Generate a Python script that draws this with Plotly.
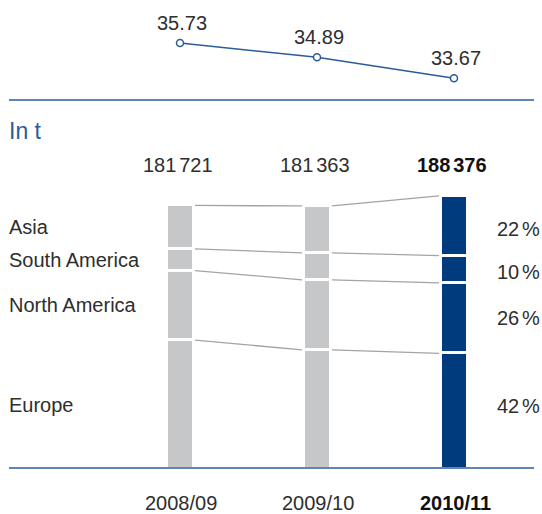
import plotly.graph_objects as go

# ---------------- data ----------------
years = ["2008/09", "2009/10", "2010/11"]
line_values = [35.73, 34.89, 33.67]
totals = [181721, 181363, 188376]
regions = ["Europe", "North America", "South America", "Asia"]  # bottom -> top
region_values = {
    "Europe":        [88863, 82157, 79776],
    "North America": [47974, 48243, 48500],
    "South America": [14900, 18680, 18900],
    "Asia":          [29984, 32283, 41200],
}
pct_values = {"Asia": 22, "South America": 10, "North America": 26, "Europe": 42}

# ---------------- style / layout ----------------
W, H = 542, 514
FONT = "Liberation Sans"
TXT = "#2e2e2e"
BLUE = "#2a5c9a"
NAVY = "#003c7d"
GREY = "#c6c7c9"
LINK = "#a3a3a3"
THIN = "<span style='font-size:10px'> </span>"
FS = 20

def py(px):
    return 1 - px / H

def thin_thousands(n):
    s = f"{n:,}"
    return s.replace(",", THIN)

x0_px, dx_px = 180, 137
xs = [0, 1, 2]
x_range = [-x0_px / dx_px, (W - x0_px) / dx_px]

# bar axis: px 469 -> 0
scale = 273.2 / 188376
y_range = [-(H - 469) / scale, 469 / scale]
# line axis
lscale = 17.1
y2_range = [35.73 - (H - 43) / lscale, 35.73 + 43 / lscale]

fig = go.Figure()
bar_colors = [GREY, GREY, NAVY]
for r in regions:
    fig.add_trace(go.Bar(
        x=xs, y=region_values[r], width=27 / dx_px,
        marker=dict(color=bar_colors, line=dict(color="white", width=3)),
        showlegend=False, hoverinfo="skip",
    ))

# connectors between segment boundaries
bounds = []
for i in range(3):
    cum = 0
    b = []
    for r in regions:
        cum += region_values[r][i]
        b.append(cum)
    bounds.append(b)
off = 15 / dx_px
for i in range(2):
    for k in range(4):
        fig.add_shape(type="line", xref="x", yref="y",
                      x0=i + off, x1=i + 1 - off,
                      y0=bounds[i][k], y1=bounds[i + 1][k],
                      line=dict(color=LINK, width=1.3), layer="above")

# top line chart
fig.add_trace(go.Scatter(
    x=xs, y=line_values, yaxis="y2", mode="lines+markers",
    line=dict(color=BLUE, width=1.5),
    marker=dict(symbol="circle", size=7, color="white",
                line=dict(color=BLUE, width=1.5)),
    showlegend=False, hoverinfo="skip",
))
for i, v in enumerate(line_values):
    fig.add_annotation(x=xs[i], y=v, xref="x", yref="y2", text=f"{v:.2f}",
                       showarrow=False, yshift=20, xshift=2,
                       font=dict(family=FONT, size=FS, color=TXT))

# divider lines
for ypx in (100, 468):
    fig.add_shape(type="line", xref="paper", yref="paper",
                  x0=9 / W, x1=534 / W, y0=py(ypx), y1=py(ypx),
                  line=dict(color=BLUE, width=1.5), layer="above")

# unit label
fig.add_annotation(x=7 / W, y=py(131), xref="paper", yref="paper", text="In t",
                   xanchor="left", yanchor="middle", showarrow=False,
                   font=dict(family=FONT, size=23, color=BLUE))

# totals
for i, t in enumerate(totals):
    txt = thin_thousands(t)
    if i == 2:
        txt = f"<b>{txt}</b>"
    fig.add_annotation(x=xs[i], y=py(165), xref="x", yref="paper", text=txt,
                       showarrow=False, xshift=-2, yanchor="middle",
                       font=dict(family=FONT, size=FS, color="#111111" if i == 2 else TXT))

# region labels at midpoints of first bar
cum = 0
for r in regions:
    mid = cum + region_values[r][0] / 2
    cum += region_values[r][0]
    fig.add_annotation(x=7 / W, y=mid, xref="paper", yref="y", text=r,
                       xanchor="left", yanchor="middle", showarrow=False,
                       font=dict(family=FONT, size=FS, color=TXT))

# percentage labels
pct_y = {"Asia": 229, "South America": 272, "North America": 318, "Europe": 406}
for r in regions:
    fig.add_annotation(x=542 / W, y=py(pct_y[r]), xref="paper", yref="paper",
                       text=f"{pct_values[r]}{THIN}%", xanchor="right", yanchor="middle",
                       showarrow=False, font=dict(family=FONT, size=FS, color=TXT))

# year labels
for i, yl in enumerate(years):
    txt = f"<b>{yl}</b>" if i == 2 else yl
    fig.add_annotation(x=xs[i], y=py(503), xref="x", yref="paper", text=txt,
                       showarrow=False, yanchor="middle", xshift=1,
                       font=dict(family=FONT, size=FS, color="#111111" if i == 2 else TXT))

fig.update_layout(
    width=W, height=H, margin=dict(l=0, r=0, t=0, b=0),
    paper_bgcolor="white", plot_bgcolor="white",
    barmode="stack", bargap=0,
    xaxis=dict(range=x_range, visible=False, fixedrange=True),
    yaxis=dict(range=y_range, visible=False, fixedrange=True, domain=[0, 1]),
    yaxis2=dict(range=y2_range, visible=False, fixedrange=True,
                overlaying="y", domain=[0, 1]),
    showlegend=False,
)

fig.write_html("out.html", config={"displayModeBar": False})
